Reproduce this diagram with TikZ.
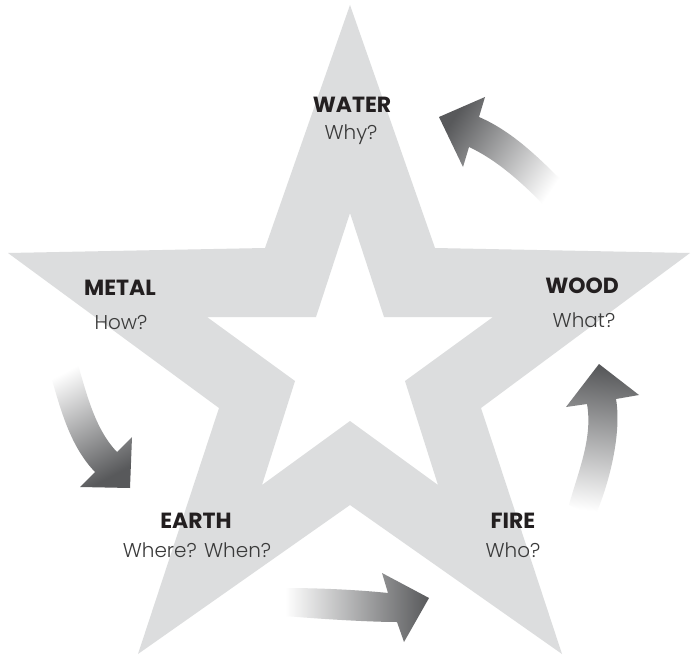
\documentclass[tikz,border=0pt]{standalone}
\usepackage{fontspec}
\setmainfont{Poppins}
\newfontfamily\lightfont{Poppins Light}
\usetikzlibrary{positioning}
\definecolor{stargray}{HTML}{DCDDDE}
\definecolor{arrowdark}{HTML}{58595B}
\definecolor{inkdark}{HTML}{231F20}
\definecolor{inkgray}{HTML}{3A3A3A}

\begin{document}
\begin{tikzpicture}[x=0.025cm,y=-0.025cm,
  every node/.style={inner sep=0pt,anchor=base},
  element/.style={font=\fontsize{15.6}{17}\selectfont\bfseries,text=inkdark},
  question/.style={font=\fontsize{14.2}{16}\lightfont,text=inkgray},
  flowarrow/.style={top color=arrowdark,bottom color=white}]
  \useasboundingbox[fill=white] (0,0) rectangle (691,657);

  % big star with the white star cut out of it
  \fill[stargray,even odd rule]
    (350,5) -- (435,248) -- (690,253) -- (481,408) -- (562,654) -- (350,505)
    -- (138,654) -- (219,408) -- (8,253) -- (265,248) -- cycle
    (350,213) -- (384,317) -- (493,317) -- (405,381) -- (438,485) -- (350,421)
    -- (262,485) -- (295,381) -- (207,317) -- (316,317) -- cycle;

  % the five elements
  \node[element]  (water)   at (352,112) {WATER};
  \node[question] (waterq)  at (351,140) {Why?};
  \node[element]  (metal)   at (120,295) {METAL};
  \node[question] (metalq)  at (121,329) {How?};
  \node[element]  (wood)    at (582,293) {WOOD};
  \node[question] (woodq)   at (584,327) {What?};
  \node[element]  (earth)   at (196,528) {EARTH};
  \node[question] (earthq)  at (197,557) {Where? When?};
  \node[element]  (fire)    at (513,528) {FIRE};
  \node[question] (fireq)   at (513,557) {Who?};

  % curved arrows of the cycle
  \shade[flowarrow,shading angle=56]
    (568,187) .. controls (542,161) and (514,132) .. (479,117) -- (485,97)
    -- (439,117) -- (463,167) -- (469,147)
    .. controls (499,161) and (524,185) .. (547,208) -- cycle;
  \shade[flowarrow,shading angle=208]
    (48,366) .. controls (59,403) and (68,444) .. (95,472) -- (80,487)
    -- (130,488) -- (132,437) -- (117,452)
    .. controls (94,428) and (86,391) .. (76,358) -- cycle;
  \shade[flowarrow,shading angle=-90]
    (286,588) .. controls (320,588) and (360,590) .. (388,593) -- (382,573)
    -- (429,598) -- (404,642) -- (397,622)
    .. controls (370,622) and (320,619) .. (285,616) -- cycle;
  \shade[flowarrow,shading angle=-7]
    (569,505) .. controls (578,472) and (593,438) .. (587,404) -- (566,407)
    -- (599,364) -- (639,395) -- (616,399)
    .. controls (622,433) and (609,485) .. (595,516) -- cycle;
\end{tikzpicture}
\end{document}
